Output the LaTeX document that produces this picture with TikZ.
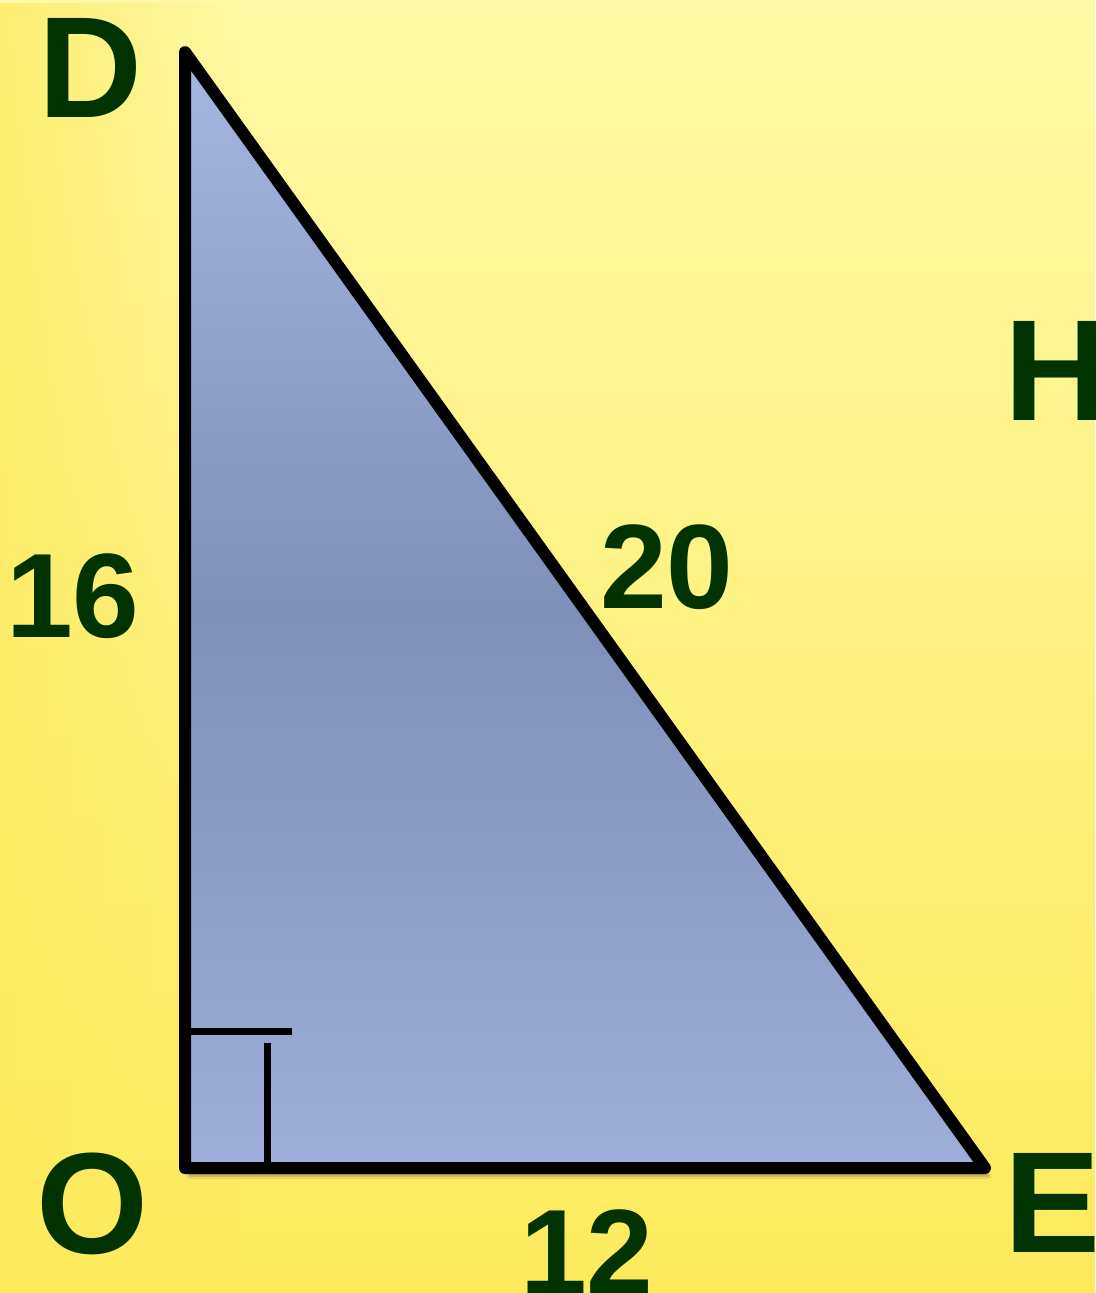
\documentclass[tikz,border=0pt]{standalone}
\usepackage{fontspec}
\setmainfont{Liberation Sans}
\usetikzlibrary{shadows.blur,fadings}

\definecolor{labelgreen}{RGB}{1,51,0}
\definecolor{bgtop}{RGB}{254,249,166}
\definecolor{bgbottom}{RGB}{253,234,92}
\definecolor{tritop}{RGB}{164,182,225}
\definecolor{trimid}{RGB}{127,143,186}
\definecolor{tribottom}{RGB}{158,174,217}

\begin{document}
\begin{tikzpicture}[x=1pt,y=-1pt,
  vertexlabel/.style={text=labelgreen, inner sep=0pt, anchor=base,
    font=\fontsize{144}{144}\selectfont\bfseries},
  sidelabel/.style={text=labelgreen, inner sep=0pt, anchor=base,
    font=\fontsize{120}{120}\selectfont\bfseries},
  anglemark/.style={line width=7pt}]

% background
\useasboundingbox (0,0) rectangle (1095,1293);
\shade[top color=bgtop, bottom color=bgbottom] (0,0) rectangle (1095,1293);
\fill[bgbottom, path fading=east, opacity=.7] (0,0) rectangle (240,1293);

% triangle
\coordinate (D) at (185,52);
\coordinate (O) at (185,1168);
\coordinate (E) at (985,1168);
\draw[line width=12pt, line join=round,
      top color=tritop, bottom color=tribottom, middle color=trimid,
      blur shadow={shadow xshift=4pt, shadow yshift=-8pt, shadow blur steps=8, shadow opacity=35}]
  (D) -- (O) -- (E) -- cycle;

% right angle
\coordinate (ra1) at (188,1031);
\coordinate (ra2) at (292,1031);
\coordinate (ra3) at (267,1043);
\coordinate (ra4) at (267,1166);
\draw[anglemark] (ra1) -- (ra2);
\draw[anglemark] (ra3) -- (ra4);

% vertices
\node[vertexlabel] (labD) at (90,117) {D};
\node[vertexlabel] (labH) at (1056,420) {H};
\node[vertexlabel] (labO) at (93,1253) {O};
\node[vertexlabel] (labE) at (1053,1252) {E};

% sides
\node[sidelabel] (len16) at (73,637) {16};
\node[sidelabel] (len20) at (667,608) {20};
\node[sidelabel] (len12) at (587,1293) {12};
\end{tikzpicture}
\end{document}
